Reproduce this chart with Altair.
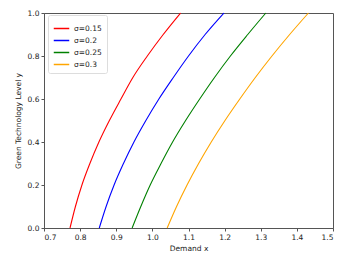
import altair as alt
import pandas as pd

series = ["σ=0.15", "σ=0.2", "σ=0.25", "σ=0.3"]
colors = ["#ff0000", "#0000ff", "#008000", "#ffa500"]
y_levels = [0.0, 0.1, 0.2, 0.3, 0.4, 0.5, 0.6, 0.7, 0.8, 0.9, 1.0]
x_s015 = [0.772, 0.787, 0.805, 0.827, 0.852, 0.881, 0.913, 0.946, 0.986, 1.030, 1.078]
x_s020 = [0.853, 0.872, 0.894, 0.920, 0.949, 0.982, 1.018, 1.058, 1.100, 1.146, 1.198]
x_s025 = [0.944, 0.968, 0.994, 1.024, 1.056, 1.092, 1.131, 1.172, 1.216, 1.264, 1.314]
x_s030 = [1.041, 1.067, 1.096, 1.128, 1.163, 1.201, 1.242, 1.285, 1.331, 1.380, 1.432]
x_ticks = [0.7, 0.8, 0.9, 1.0, 1.1, 1.2, 1.3, 1.4, 1.5]
y_ticks = [0.0, 0.2, 0.4, 0.6, 0.8, 1.0]

rows = []
for name, xs in zip(series, [x_s015, x_s020, x_s025, x_s030]):
    for i, (xv, yv) in enumerate(zip(xs, y_levels)):
        rows.append({"series": name, "x": xv, "y": yv, "i": i})
df = pd.DataFrame(rows)

font = "DejaVu Sans"

chart = alt.Chart(df).mark_line(strokeWidth=1.1, interpolate="monotone").encode(
    x=alt.X("x:Q", scale=alt.Scale(domain=[0.7, 1.5], nice=False, zero=False),
            axis=alt.Axis(values=x_ticks, format=".1f", title="Demand x", grid=False,
                          tickSize=3, labelPadding=2, titlePadding=4)),
    y=alt.Y("y:Q", scale=alt.Scale(domain=[0, 1], nice=False),
            axis=alt.Axis(values=y_ticks, format=".1f", title="Green Technology Level y",
                          grid=False, tickSize=3, labelPadding=2, titlePadding=5)),
    color=alt.Color("series:N", scale=alt.Scale(domain=series, range=colors),
                    legend=alt.Legend(title=None, orient="none", legendX=4, legendY=2,
                                      symbolType="stroke", symbolSize=240, symbolStrokeWidth=1.5,
                                      rowPadding=-1, padding=5, labelFontSize=7.5, labelFont=font,
                                      strokeColor="#dddddd", fillColor="white", cornerRadius=2,
                                      labelColor="#222222")),
    order="i:Q",
).properties(
    width=289, height=215,
    padding={"left": 36, "top": 5, "right": 7, "bottom": 30},
    autosize=alt.AutoSizeParams(type="none"),
).configure_view(
    stroke="#555555", strokeWidth=1
).configure_axis(
    labelFont=font, titleFont=font, labelFontSize=7.5, titleFontSize=7.5,
    titleFontWeight="normal", labelColor="#222222", titleColor="#222222",
    domainColor="#555555", tickColor="#555555"
)

chart.save("out.html", embed_options={"renderer": "svg", "actions": False})
